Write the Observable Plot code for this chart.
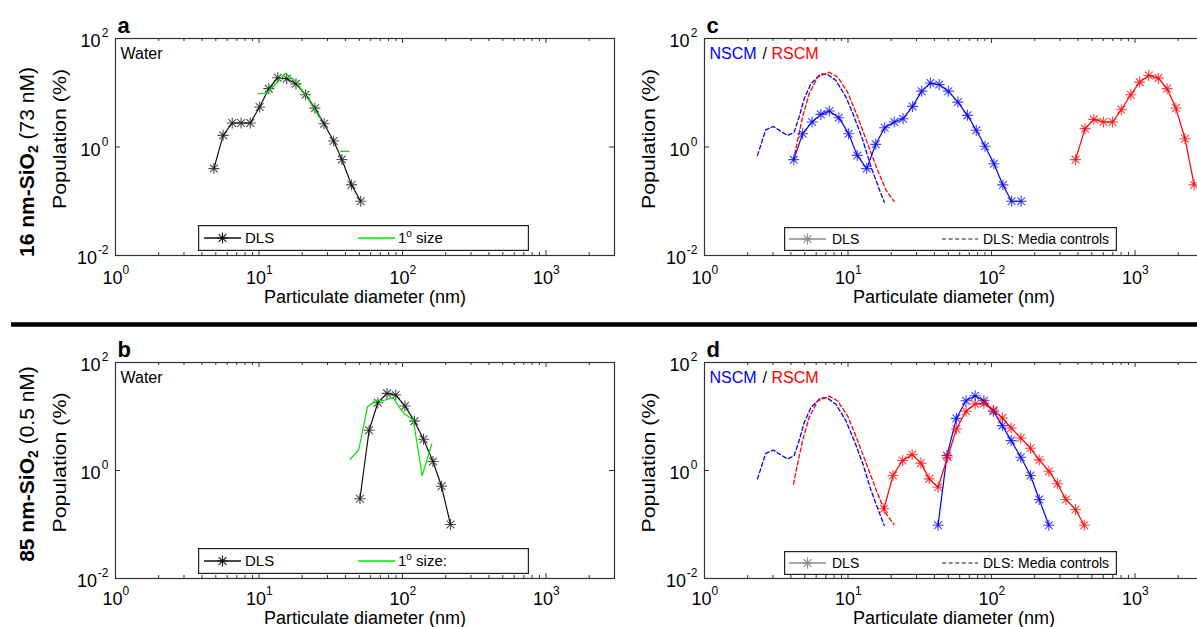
<!DOCTYPE html>
<html><head><meta charset="utf-8">
<script src="https://cdn.jsdelivr.net/npm/d3@7"></script>
<script src="https://cdn.jsdelivr.net/npm/@observablehq/plot@0.6"></script>
<style>
html,body{margin:0;padding:0;background:#fff;overflow:hidden;}
#root{position:relative;width:1197px;height:627px;overflow:hidden;font-family:"Liberation Sans",Arial,sans-serif;background:#fff;}
.panel{position:absolute;width:640px;height:320px;}
</style></head><body><div id="root"></div>
<script>
// ---------- axis ticks ----------
const xMajor = [1, 10, 100, 1000];
const xExp = ["0", "1", "2", "3"];
const xMinor = [2,3,4,5,6,7,8,9,20,30,40,50,60,70,80,90,200,300,400,500,600,700,800,900,2000];
const yMajor = [0.01, 1, 100];
const yExp = ["-2", "0", "2"];

// ---------- panel a: 16 nm in water ----------
const aDlsD = [4.85,5.62,6.51,7.50,8.69,10.1,11.7,13.5,15.6,18.1,21.1,24.5,28.4,33.1,37.8,44.1,51.1];
const aDlsP = [0.40,1.64,2.77,2.77,2.77,5.45,11.9,18.9,18.1,14.6,9.2,5.2,2.69,1.29,0.59,0.20,0.10];
const aPrimD = [9.87,11.3,15.3,18.0,20.5,23.9,26.8,NaN,37,42.3];
const aPrimP = [9.6,9.8,22.9,16.3,10.2,5.4,3.3,NaN,0.83,0.83];

// ---------- panel b: 85 nm in water ----------
const bDlsD = [50.5,58.5,67.3,78.0,89.7,104,121,140,163,187,216];
const bDlsP = [0.30,5.56,18.0,26.8,25.0,15.6,8.2,3.78,1.47,0.51,0.10];
const bPrimD = [43,49.5,57,65,73,86,95,103,119,137,160];
const bPrimP = [1.6,2.4,15,20,19.6,22.6,14.7,11.2,8.6,0.8,3.1];

// ---------- media controls (c, d) ----------
const mNsD = [2.34,2.67,3.02,3.40,3.79,4.21,4.56,4.95,5.51,6.47,7.21,8.24,9.68,11.07,12.7,14.5,16.6,17.9];
const mNsP = [0.70,2.07,2.39,1.95,1.63,1.87,3.54,7.73,14.6,22.3,21.7,16.8,8.28,3.54,1.32,0.42,0.16,0.096];
const mRsD = [4.17,4.45,4.82,5.36,6.14,7.40,8.47,9.95,11.7,13.7,16.1,18.4,20.9];
const mRsP = [0.56,1.32,3.54,9.6,19.4,23.9,19.4,10.2,3.54,1.15,0.37,0.16,0.10];

// ---------- panel c: 16 nm in media ----------
const cNsD = [4.19,4.83,5.62,6.47,7.41,8.63,10.1,11.6,13.5,15.6,18.0,21.0,24.2,28.2,32.6,37.5,43.2,50.0,58.3,68.0,78.3,90.1,104,120,138,161];
const cNsP = [0.585,1.76,2.89,3.99,4.60,3.47,1.76,0.70,0.40,1.12,2.27,2.89,3.32,5.6,10.7,15.1,14.2,10.7,6.73,3.83,2.03,1.03,0.49,0.20,0.10,0.10];
const cRsD = [385,448,516,602,697,802,935,1077,1247,1453,1672,1926,2230,2582];
const cRsP = [0.585,2.18,3.23,2.89,2.89,4.86,9.18,15.7,20.8,18.6,11.9,5.22,1.42,0.20];

// ---------- panel d: 85 nm in media ----------
const dNsD = [42.4,48.9,56.9,66.4,76.9,88.5,103,119,137,160,187,215,251];
const dNsP = [0.097,1.89,9.25,19.6,24.3,19.6,12.5,6.78,3.58,1.76,0.81,0.29,0.097];
const dRsD = [17.8,20.6,24.0,28.0,32.2,36.8,42.4,49.4,56.9,66.4,76.9,88.5,103,119,137,160,187,215,251,288,330,385,443];
const dRsP = [0.196,0.81,1.53,1.97,1.37,0.70,0.49,1.76,5.88,12.5,17.0,17.5,13.2,9.38,6.14,4.01,2.58,1.57,0.97,0.57,0.29,0.19,0.097];

const BLUE = "#0000ff", RED = "#ff0000", GREEN = "#00e600", BLACK = "#111";

const star8 = {
  draw(context, size) {
    const r = Math.sqrt(size / Math.PI), d = r * Math.SQRT1_2;
    context.moveTo(-r, 0); context.lineTo(r, 0);
    context.moveTo(0, -r); context.lineTo(0, r);
    context.moveTo(-d, -d); context.lineTo(d, d);
    context.moveTo(-d, d); context.lineTo(d, -d);
  }
};

const pts = (D, P) => D.map((d, i) => ({d, p: P[i]}));

function seriesMarks(s) {
  const data = pts(s.D, s.P);
  const m = [Plot.line(data, {x: "d", y: "p", stroke: s.color, strokeWidth: s.dash ? 1.3 : 1.2,
    strokeDasharray: s.dash ? "4,2.6" : null})];
  if (s.markers) m.push(Plot.dot(data, {x: "d", y: "p", symbol: star8, r: 5.5, fill: "none",
    stroke: s.color, strokeWidth: 1.1, strokeOpacity: 0.75}));
  return m;
}

function makePanel(p) {
  const W = 640, H = 320, fw = 499, mT = 38;
  const mL = p.mL, mR = W - mL - fw, mB = H - mT - p.fh;
  const tc = "#333";
  const marks = [
    Plot.tickX(xMajor, {x: d => d, insetTop: p.fh - 5, stroke: tc}),
    Plot.tickX(xMajor, {x: d => d, insetBottom: p.fh - 5, stroke: tc}),
    Plot.tickX(xMinor, {x: d => d, insetTop: p.fh - 3, stroke: tc}),
    Plot.tickX(xMinor, {x: d => d, insetBottom: p.fh - 3, stroke: tc}),
    Plot.tickY(yMajor, {y: d => d, insetRight: fw - 5, stroke: tc}),
    Plot.tickY(yMajor, {y: d => d, insetLeft: fw - 5, stroke: tc}),
    ...p.series.flatMap(seriesMarks),
    Plot.frame({stroke: "#333", strokeWidth: 1.2}),
    // x tick labels
    Plot.text(xMajor, {x: d => d, frameAnchor: "bottom", text: () => "10", textAnchor: "end",
      dx: 7, dy: p.tickDy, fontSize: 18, lineAnchor: "middle", fill: "#000"}),
    Plot.text(xMajor, {x: d => d, frameAnchor: "bottom", text: (d, i) => xExp[i], textAnchor: "start",
      dx: 7, dy: p.tickDy - 8, fontSize: 12, lineAnchor: "middle", fill: "#000"}),
    // y tick labels
    Plot.text(yMajor, {y: d => d, frameAnchor: "left", text: (d, i) => yExp[i], textAnchor: "end",
      dx: -7, dy: -5, fontSize: 12, lineAnchor: "middle", fill: "#000"}),
    Plot.text(yMajor, {filter: (d, i) => !yExp[i].startsWith("-"), y: d => d, frameAnchor: "left",
      text: () => "10", textAnchor: "end", dx: -15, dy: 3, fontSize: 18, lineAnchor: "middle", fill: "#000"}),
    Plot.text(yMajor, {filter: (d, i) => yExp[i].startsWith("-"), y: d => d, frameAnchor: "left",
      text: () => "10", textAnchor: "end", dx: -18.5, dy: 3, fontSize: 18, lineAnchor: "middle", fill: "#000"}),
    // axis titles
    Plot.text(["Particulate diameter (nm)"], {frameAnchor: "bottom", dy: p.xlabDy, text: d => d, fontSize: 18,
      textAnchor: "middle", lineAnchor: "middle", fill: "#000"}),
    Plot.text(["Population (%)"], {frameAnchor: "left", rotate: -90, dx: -55, dy: -8, text: d => d,
      fontSize: 18, textAnchor: "middle", lineAnchor: "middle", fill: "#000"}),
    // panel letter
    Plot.text([p.letter], {frameAnchor: "top-left", dx: 2, dy: -13, text: d => d, fontSize: 22,
      fontWeight: "bold", textAnchor: "start", lineAnchor: "middle", fill: "#000"}),
    ...p.notes.map(n => Plot.text([n.t], {frameAnchor: "top-left", dx: n.dx, dy: 15.5, text: d => d,
      fontSize: n.fs, fill: n.c, textAnchor: "start", lineAnchor: "middle"}))
  ];
  const svg = Plot.plot({
    width: W, height: H, marginLeft: mL, marginRight: mR, marginTop: mT, marginBottom: mB,
    x: {type: "log", domain: [1, 3000], axis: null},
    y: {type: "log", domain: [0.01, 100], axis: null},
    style: {fontFamily: "Liberation Sans, Arial, sans-serif", background: "transparent", maxWidth: "none", overflow: "visible"},
    marks
  });
  svg.querySelectorAll("text").forEach(t => {
    if (t.textContent === "Population (%)") { t.setAttribute("textLength", 140); t.setAttribute("lengthAdjust", "spacingAndGlyphs"); }
  });
  const div = document.createElement("div");
  div.className = "panel";
  div.style.left = p.left + "px"; div.style.top = p.top + "px";
  div.appendChild(svg);
  document.getElementById("root").appendChild(div);
}

const waterNote = [{t: "Water", dx: 5, fs: 16, c: "#000"}];
const mediaNote = [{t: "NSCM", dx: 5, fs: 16, c: BLUE}, {t: "/", dx: 58, fs: 16, c: "#000"}, {t: "RSCM", dx: 67, fs: 16, c: RED}];

makePanel({letter: "a", left: 0, top: 0, mL: 115, fh: 217, tickDy: 23, xlabDy: 42, notes: waterNote, series: [
  {D: aDlsD, P: aDlsP, color: BLACK, markers: true},
  {D: aPrimD, P: aPrimP, color: GREEN}
]});
makePanel({letter: "b", left: 0, top: 324, mL: 115, fh: 216, tickDy: 21, xlabDy: 40, notes: waterNote, series: [
  {D: bDlsD, P: bDlsP, color: BLACK, markers: true},
  {D: bPrimD, P: bPrimP, color: GREEN}
]});
makePanel({letter: "c", left: 590, top: 0, mL: 114, fh: 217, tickDy: 23, xlabDy: 42, notes: mediaNote, series: [
  {D: mNsD, P: mNsP, color: BLUE, dash: true},
  {D: mRsD, P: mRsP, color: RED, dash: true},
  {D: cNsD, P: cNsP, color: BLUE, markers: true},
  {D: cRsD, P: cRsP, color: RED, markers: true}
]});
makePanel({letter: "d", left: 590, top: 324, mL: 114, fh: 216, tickDy: 21, xlabDy: 40, notes: mediaNote, series: [
  {D: mNsD, P: mNsP, color: BLUE, dash: true},
  {D: mRsD, P: mRsP, color: RED, dash: true},
  {D: dNsD, P: dNsP, color: BLUE, markers: true},
  {D: dRsD, P: dRsP, color: RED, markers: true}
]});

// ---------- legends ----------
function starPathD(r) {
  const q = d3.path();
  star8.draw(q, Math.PI * r * r);
  return q.toString();
}
function legend(L) {
  const svg = d3.select("#root").append("svg")
    .style("position", "absolute").style("left", L.left + "px").style("top", L.top + "px")
    .attr("width", L.w).attr("height", L.h).style("font-family", "Liberation Sans, Arial, sans-serif");
  svg.append("rect").attr("x", 0.6).attr("y", 0.6).attr("width", L.w - 1.2).attr("height", L.h - 1.2)
    .attr("fill", "#fff").attr("stroke", "#222").attr("stroke-width", 1.2);
  const cy = L.h / 2;
  for (const it of L.items) {
    svg.append("line").attr("x1", it.x0).attr("x2", it.x1).attr("y1", cy).attr("y2", cy)
      .attr("stroke", it.color).attr("stroke-width", 1.3).attr("stroke-dasharray", it.dash ? "4,2.6" : null);
    if (it.marker) {
      svg.append("path").attr("d", starPathD(5.5)).attr("transform", `translate(${(it.x0 + it.x1) / 2},${cy})`)
        .attr("fill", "none").attr("stroke", it.color).attr("stroke-width", 1.1);
    }
    const t = svg.append("text").attr("x", it.tx).attr("y", cy).attr("dy", "0.35em")
      .attr("font-size", L.fs).attr("fill", "#000");
    if (it.sup) {
      t.append("tspan").text(it.text[0]);
      t.append("tspan").attr("dy", -6).attr("font-size", 10).text(it.sup);
      t.append("tspan").attr("dy", 6).text(it.text[1]);
    } else t.text(it.text);
  }
}
legend({left: 198, top: 225, w: 331, h: 26, fs: 15, items: [
  {x0: 6, x1: 43, color: BLACK, marker: true, tx: 47, text: "DLS"},
  {x0: 160, x1: 197, color: GREEN, tx: 200, text: ["1", " size"], sup: "o"}
]});
legend({left: 198, top: 548, w: 331, h: 26, fs: 15, items: [
  {x0: 6, x1: 43, color: BLACK, marker: true, tx: 47, text: "DLS"},
  {x0: 160, x1: 197, color: GREEN, tx: 200, text: ["1", " size:"], sup: "o"}
]});
legend({left: 784, top: 227, w: 333, h: 24, fs: 14, items: [
  {x0: 5, x1: 42, color: "#8c8c8c", marker: true, tx: 48, text: "DLS"},
  {x0: 158, x1: 194, color: "#666", dash: true, tx: 199, text: "DLS: Media controls"}
]});
legend({left: 784, top: 551, w: 333, h: 24, fs: 14, items: [
  {x0: 5, x1: 42, color: "#8c8c8c", marker: true, tx: 48, text: "DLS"},
  {x0: 158, x1: 194, color: "#666", dash: true, tx: 199, text: "DLS: Media controls"}
]});

// ---------- row labels and divider ----------
const rowLabels = [
  {main: "16 nm-SiO", sub: "2", rest: " (73 nM)", cy: 162},
  {main: "85 nm-SiO", sub: "2", rest: " (0.5 nM)", cy: 464}
];
const ov = d3.select("#root").append("svg").style("position", "absolute").style("left", 0).style("top", 0)
  .attr("width", 1197).attr("height", 627).style("pointer-events", "none")
  .style("font-family", "Liberation Sans, Arial, sans-serif");
ov.append("line").attr("x1", 11).attr("x2", 1197).attr("y1", 324.5).attr("y2", 324.5)
  .attr("stroke", "#000").attr("stroke-width", 4.5);
for (const r of rowLabels) {
  const t = ov.append("text").attr("transform", `translate(34,${r.cy}) rotate(-90)`)
    .attr("text-anchor", "middle").attr("font-size", 21).attr("fill", "#000");
  t.append("tspan").attr("font-weight", "bold").text(r.main);
  t.append("tspan").attr("font-weight", "bold").attr("font-size", 14).attr("dy", 4).text(r.sub);
  t.append("tspan").attr("dy", -4).text(r.rest);
}
</script></body></html>
